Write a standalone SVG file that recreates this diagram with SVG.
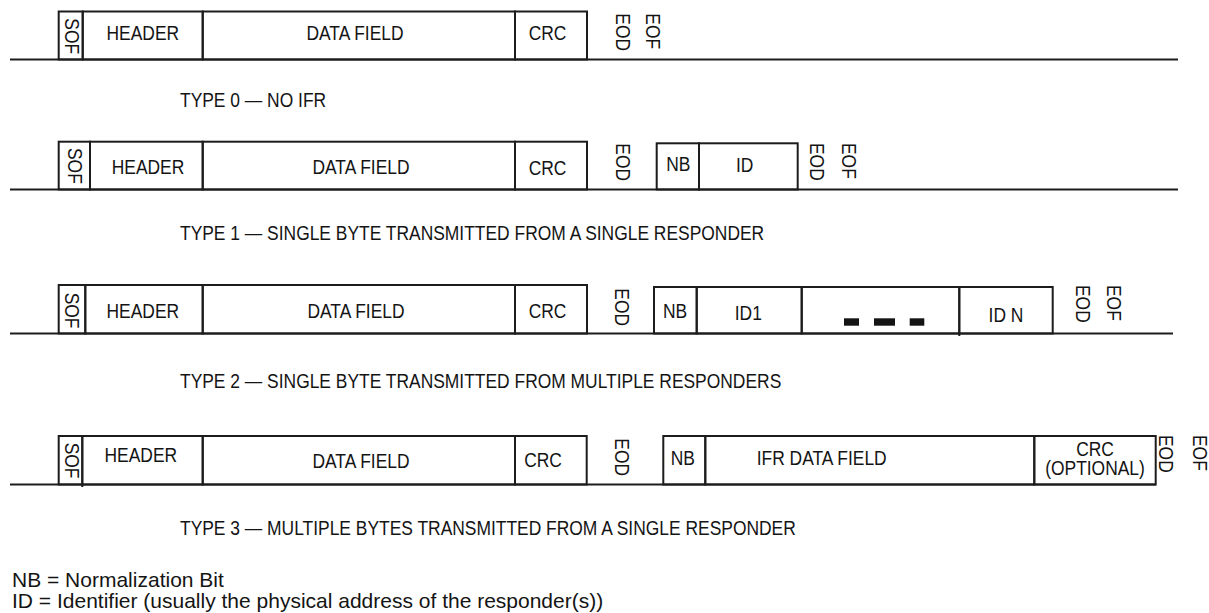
<svg xmlns="http://www.w3.org/2000/svg" width="1209" height="613" viewBox="0 0 1209 613">
<style>
.ln{fill:none;stroke:#1c1c1c;stroke-width:2}
.t{font-family:"Liberation Sans",Arial,sans-serif;font-size:21px;fill:#141414}
.m{text-anchor:middle}
.leg{font-family:"Liberation Sans",Arial,sans-serif;font-size:21px;fill:#141414}
</style>
<rect width="1209" height="613" fill="#fff"/>
<g id="baselines" class="ln">
<line x1="10" y1="59.5" x2="1178" y2="59.5"/>
<line x1="10" y1="189.5" x2="1178" y2="189.5"/>
<line x1="10" y1="333.5" x2="1173" y2="333.5"/>
<line x1="10" y1="484.5" x2="1156" y2="484.5"/>
</g>
<!-- TYPE 0 -->
<g id="t0-frame">
<g id="t0-sof"><rect class="ln" x="58.7" y="11.5" width="24" height="48"/><text class="t" transform="translate(65,18.3) rotate(90) scale(0.83,1)">SOF</text></g>
<g id="t0-header"><rect class="ln" x="82.7" y="11.5" width="120" height="48"/><text class="t m" transform="translate(142.8,40) scale(0.83,1)">HEADER</text></g>
<g id="t0-data"><rect class="ln" x="202.7" y="11.5" width="312.3" height="48"/><text class="t m" transform="translate(355,40) scale(0.83,1)">DATA FIELD</text></g>
<g id="t0-crc"><rect class="ln" x="515" y="11.5" width="72" height="48"/><text class="t m" transform="translate(547.5,40) scale(0.83,1)">CRC</text></g>
<g id="t0-eod"><text class="t" transform="translate(616,13.3) rotate(90) scale(0.83,1)">EOD</text></g>
<g id="t0-eof"><text class="t" transform="translate(646,13.3) rotate(90) scale(0.83,1)">EOF</text></g>
<g id="t0-caption"><text class="t" transform="translate(180,107) scale(0.83,1)">TYPE 0 — NO IFR</text></g>
</g>
<!-- TYPE 1 -->
<g id="t1-frame">
<g id="t1-sof"><rect class="ln" x="58.7" y="141.7" width="31.3" height="47.8"/><text class="t" transform="translate(68.3,148) rotate(90) scale(0.83,1)">SOF</text></g>
<g id="t1-header"><rect class="ln" x="90" y="141.7" width="112.7" height="47.8"/><text class="t m" transform="translate(148,174.3) scale(0.83,1)">HEADER</text></g>
<g id="t1-data"><rect class="ln" x="202.7" y="141.7" width="312.3" height="47.8"/><text class="t m" transform="translate(361,174.3) scale(0.83,1)">DATA FIELD</text></g>
<g id="t1-crc"><rect class="ln" x="515" y="141.7" width="72" height="47.8"/><text class="t m" transform="translate(547.5,175) scale(0.83,1)">CRC</text></g>
<g id="t1-eod"><text class="t" transform="translate(616,143.3) rotate(90) scale(0.83,1)">EOD</text></g>
<g id="t1-nb"><rect class="ln" x="656.7" y="143.3" width="42.3" height="46.2"/><text class="t m" transform="translate(678.3,170.7) scale(0.83,1)">NB</text></g>
<g id="t1-id"><rect class="ln" x="699" y="143.3" width="98.7" height="46.2"/><text class="t m" transform="translate(744.7,171.7) scale(0.83,1)">ID</text></g>
<g id="t1-eod2"><text class="t" transform="translate(810,143) rotate(90) scale(0.83,1)">EOD</text></g>
<g id="t1-eof"><text class="t" transform="translate(842,143) rotate(90) scale(0.83,1)">EOF</text></g>
<g id="t1-caption"><text class="t" transform="translate(180,240) scale(0.83,1)">TYPE 1 — SINGLE BYTE TRANSMITTED FROM A SINGLE RESPONDER</text></g>
</g>
<!-- TYPE 2 -->
<g id="t2-frame">
<g id="t2-sof"><rect class="ln" x="58.7" y="285" width="26.6" height="48.5"/><text class="t" transform="translate(65,292.7) rotate(90) scale(0.83,1)">SOF</text></g>
<g id="t2-header"><rect class="ln" x="85.3" y="285" width="117.4" height="48.5"/><text class="t m" transform="translate(142.8,318.3) scale(0.83,1)">HEADER</text></g>
<g id="t2-data"><rect class="ln" x="202.7" y="285" width="312.3" height="48.5"/><text class="t m" transform="translate(356,318.3) scale(0.83,1)">DATA FIELD</text></g>
<g id="t2-crc"><rect class="ln" x="515" y="285" width="72" height="48.5"/><text class="t m" transform="translate(547.5,318.3) scale(0.83,1)">CRC</text></g>
<g id="t2-eod"><text class="t" transform="translate(615,288.3) rotate(90) scale(0.83,1)">EOD</text></g>
<g id="t2-nb"><rect class="ln" x="654" y="287" width="42.7" height="46.5"/><text class="t m" transform="translate(675,317.7) scale(0.83,1)">NB</text></g>
<g id="t2-id1"><rect class="ln" x="696.7" y="287" width="105" height="46.5"/><text class="t m" transform="translate(748.3,320) scale(0.83,1)">ID1</text></g>
<g id="t2-gap"><rect class="ln" x="801.7" y="287" width="157.6" height="46.5"/><line class="ln" x1="959.3" y1="333" x2="959.3" y2="336"/>
<rect x="844" y="318.3" width="15" height="7.4" fill="#141414"/><rect x="874" y="318.3" width="21" height="7.4" fill="#141414"/><rect x="909.7" y="318.3" width="14.6" height="7.4" fill="#141414"/></g>
<g id="t2-idn"><rect class="ln" x="959.3" y="287" width="93.4" height="46.5"/><text class="t m" transform="translate(1006,322.3) scale(0.83,1)">ID N</text></g>
<g id="t2-eod2"><text class="t" transform="translate(1076,285) rotate(90) scale(0.83,1)">EOD</text></g>
<g id="t2-eof"><text class="t" transform="translate(1107,285) rotate(90) scale(0.83,1)">EOF</text></g>
<g id="t2-caption"><text class="t" transform="translate(180,388) scale(0.83,1)">TYPE 2 — SINGLE BYTE TRANSMITTED FROM MULTIPLE RESPONDERS</text></g>
</g>
<!-- TYPE 3 -->
<g id="t3-frame">
<g id="t3-sof"><rect class="ln" x="58.7" y="436" width="23.6" height="48.5"/><line class="ln" x1="82.3" y1="484" x2="82.3" y2="487"/><text class="t" transform="translate(65,442.7) rotate(90) scale(0.83,1)">SOF</text></g>
<g id="t3-header"><rect class="ln" x="82.3" y="436" width="120.4" height="48.5"/><text class="t m" transform="translate(140.8,461.7) scale(0.83,1)">HEADER</text></g>
<g id="t3-data"><rect class="ln" x="202.7" y="436" width="312.3" height="48.5"/><text class="t m" transform="translate(361,467.7) scale(0.83,1)">DATA FIELD</text></g>
<g id="t3-crc"><rect class="ln" x="515" y="436" width="71.7" height="48.5"/><text class="t m" transform="translate(543,466.7) scale(0.83,1)">CRC</text></g>
<g id="t3-eod"><text class="t" transform="translate(615,438.3) rotate(90) scale(0.83,1)">EOD</text></g>
<g id="t3-nb"><rect class="ln" x="663.3" y="436" width="42" height="48.5"/><text class="t m" transform="translate(682.8,465) scale(0.83,1)">NB</text></g>
<g id="t3-ifr"><rect class="ln" x="705.3" y="436" width="329" height="48.5"/><text class="t m" transform="translate(821.7,465) scale(0.83,1)">IFR DATA FIELD</text></g>
<g id="t3-crcopt"><rect class="ln" x="1034.3" y="436" width="121.4" height="48.5"/><text class="t m" transform="translate(1095,456) scale(0.83,1)">CRC</text><text class="t m" transform="translate(1095,474.5) scale(0.83,1)">(OPTIONAL)</text></g>
<g id="t3-eod2"><text class="t" transform="translate(1159,435) rotate(90) scale(0.83,1)">EOD</text></g>
<g id="t3-eof"><text class="t" transform="translate(1193,435) rotate(90) scale(0.83,1)">EOF</text></g>
<g id="t3-caption"><text class="t" transform="translate(180,535) scale(0.83,1)">TYPE 3 — MULTIPLE BYTES TRANSMITTED FROM A SINGLE RESPONDER</text></g>
</g>
<g id="legend">
<text class="leg" x="12" y="586.7">NB = Normalization Bit</text>
<text class="leg" x="12" y="608.3">ID = Identifier (usually the physical address of the responder(s))</text>
</g>
</svg>
